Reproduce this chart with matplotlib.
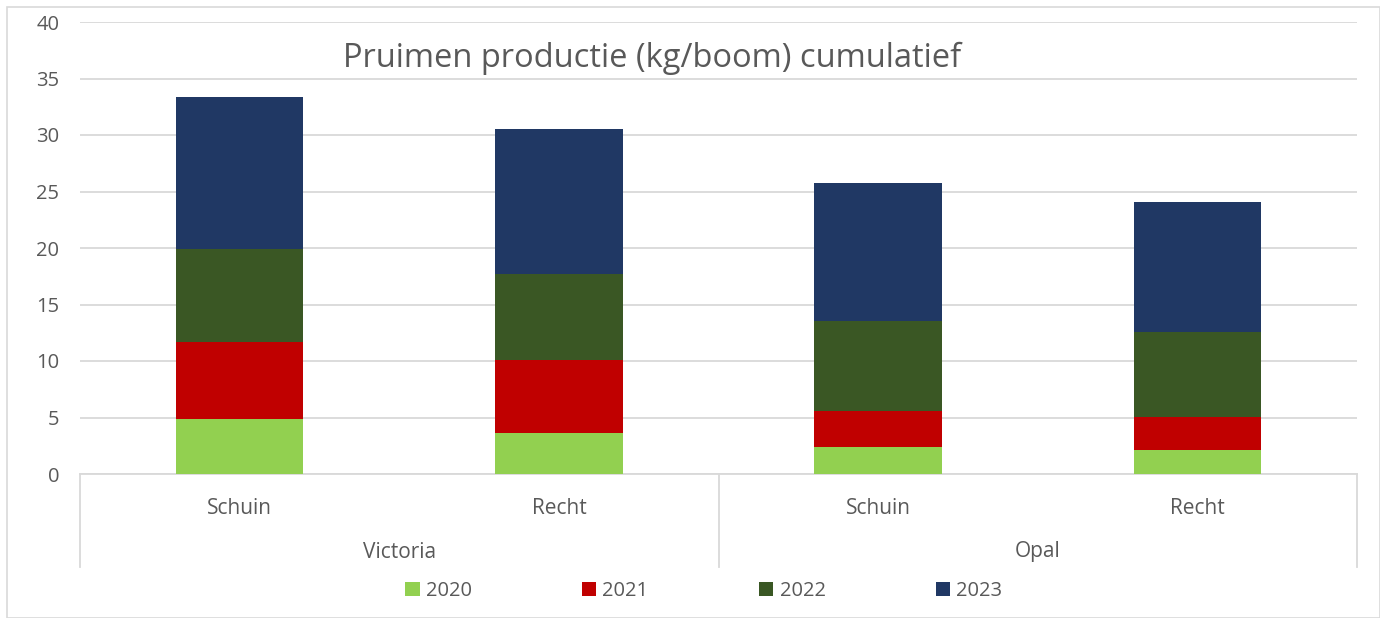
import numpy as np
import matplotlib.pyplot as plt
from matplotlib.patches import Rectangle

# data (kg per tree, per year)
rassen = ['Victoria', 'Opal']
snoei = ['Schuin', 'Recht', 'Schuin', 'Recht']
jaren = ['2020', '2021', '2022', '2023']
v2020 = [4.87, 3.63, 2.39, 2.12]
v2021 = [6.81, 6.46, 3.19, 2.92]
v2022 = [8.23, 7.61, 7.96, 7.53]
v2023 = [13.45, 12.83, 12.21, 11.50]
kleuren = ['#92D050', '#C00000', '#3A5724', '#203864']

plt.rcParams['font.family'] = ['Open Sans', 'DejaVu Sans']
grijs = '#595959'
lijn = '#D9D9D9'

fig = plt.figure(figsize=(13.8, 6.18), dpi=100)
fig.patches.append(Rectangle((7/1380, 0), 1 - 7/1380, 1 - 7/618, transform=fig.transFigure,
                             fill=False, edgecolor=lijn, linewidth=1.2))
ax = fig.add_axes([80/1380, 1 - 474/618, 1277/1380, 452/618])

x = np.arange(len(snoei))
bottom = np.zeros(len(snoei))
for jaar, waarden, kleur in zip(jaren, [v2020, v2021, v2022, v2023], kleuren):
    ax.bar(x, waarden, width=0.4, bottom=bottom, color=kleur, label=jaar, zorder=3)
    bottom += np.array(waarden)

ax.set_xlim(-0.5, 3.5)
ax.set_ylim(0, 40)
ax.set_yticks(range(0, 41, 5))
ax.yaxis.grid(True, color=lijn, linewidth=1.3, zorder=0)
for s in ['top', 'right', 'left']:
    ax.spines[s].set_visible(False)
ax.spines['bottom'].set_color(lijn)
ax.spines['bottom'].set_linewidth(1.3)
ax.tick_params(axis='y', length=0, labelsize=14.5, colors=grijs, pad=15)
ax.tick_params(axis='x', length=0, labelsize=15, colors=grijs, pad=17)
ax.set_xticks(x)
ax.set_xticklabels(snoei)

# group axis: vertical dividers and variety labels
diep = -(567 - 474) / 452
for xp in [0, 0.5, 1]:
    ax.plot([xp, xp], [0, diep], transform=ax.transAxes, color=lijn, linewidth=1.3, clip_on=False)
for i, ras in enumerate(rassen):
    ax.text(0.25 + 0.5 * i, -(552 - 474) / 452, ras, transform=ax.transAxes,
            ha='center', va='center', fontsize=15, color=grijs)

fig.text(652/1380, 1 - 58/618, 'Pruimen productie (kg/boom) cumulatief',
         ha='center', va='center', fontsize=23.5, color=grijs)

fig.legend(loc='center', bbox_to_anchor=(704/1380, 1 - 591/618), ncol=4, frameon=False,
           fontsize=14.5, labelcolor=grijs, handlelength=0.7, handleheight=0.7,
           handletextpad=0.3, columnspacing=5.5)

fig.savefig('out.png', dpi=100)
